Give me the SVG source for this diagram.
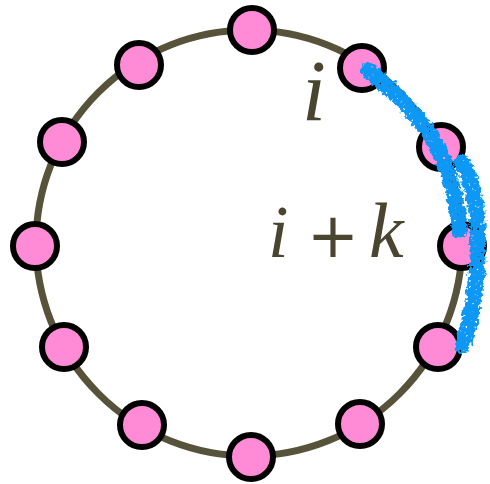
<svg xmlns="http://www.w3.org/2000/svg" width="490" height="484" viewBox="0 0 490 484">
  <defs>
    <style>
      .ring { fill: none; stroke: #57523a; stroke-width: 7; }
      .node circle { fill: #ff8ad6; stroke: #000; stroke-width: 6; }
      .lbl { font-family: "Liberation Serif", "Times New Roman", serif; font-style: italic; fill: #4a4530; }
      .op { font-family: "DejaVu Sans", sans-serif; fill: #4a4530; }
      .mark { fill: none; stroke: #0a98f5; stroke-width: 16; stroke-linecap: round; stroke-linejoin: round; }
    </style>
    <filter id="rough" x="-20%" y="-20%" width="140%" height="140%">
      <feTurbulence type="fractalNoise" baseFrequency="0.25" numOctaves="2" seed="3" result="n"/>
      <feDisplacementMap in="SourceGraphic" in2="n" scale="8" xChannelSelector="R" yChannelSelector="G" result="d"/>
      <feTurbulence type="fractalNoise" baseFrequency="0.35" numOctaves="1" seed="7" result="h"/>
      <feColorMatrix in="h" type="matrix" values="0 0 0 0 0  0 0 0 0 0  0 0 0 0 0  -12 0 0 0 9" result="hm"/>
      <feComposite in="d" in2="hm" operator="in"/>
    </filter>
  </defs>
  <rect width="490" height="484" fill="#fff"/>
  <g id="connectors">
    <circle class="ring" cx="249" cy="243" r="213"/>
  </g>
  <g id="n1" class="node"><circle cx="252" cy="30" r="22"/></g>
  <g id="n2" class="node"><circle cx="362" cy="68" r="22"/></g>
  <g id="n3" class="node"><circle cx="441" cy="147" r="22"/></g>
  <g id="n4" class="node"><circle cx="462" cy="246" r="22"/></g>
  <g id="n5" class="node"><circle cx="438" cy="347" r="22"/></g>
  <g id="n6" class="node"><circle cx="360" cy="424" r="22"/></g>
  <g id="n7" class="node"><circle cx="251" cy="457" r="22"/></g>
  <g id="n8" class="node"><circle cx="142" cy="425" r="22"/></g>
  <g id="n9" class="node"><circle cx="64" cy="347" r="22"/></g>
  <g id="n10" class="node"><circle cx="35" cy="246" r="22"/></g>
  <g id="n11" class="node"><circle cx="62" cy="142" r="22"/></g>
  <g id="n12" class="node"><circle cx="139" cy="65" r="22"/></g>
  <g id="marks" filter="url(#rough)">
    <path class="mark" d="M368,70 C390,88 415,112 432,138 C448,162 456,195 460,230"/>
    <path class="mark" d="M462,162 C474,185 479,215 478,250 C477,285 472,315 463,345"/>
  </g>
  <g id="labels">
    <text class="lbl" x="302" y="120" font-size="86">i</text>
    <text class="lbl" x="268" y="257" font-size="74">i</text>
    <text class="op" x="307" y="257" font-size="62">+</text>
    <text class="lbl" x="369" y="257" font-size="78">k</text>
  </g>
</svg>
